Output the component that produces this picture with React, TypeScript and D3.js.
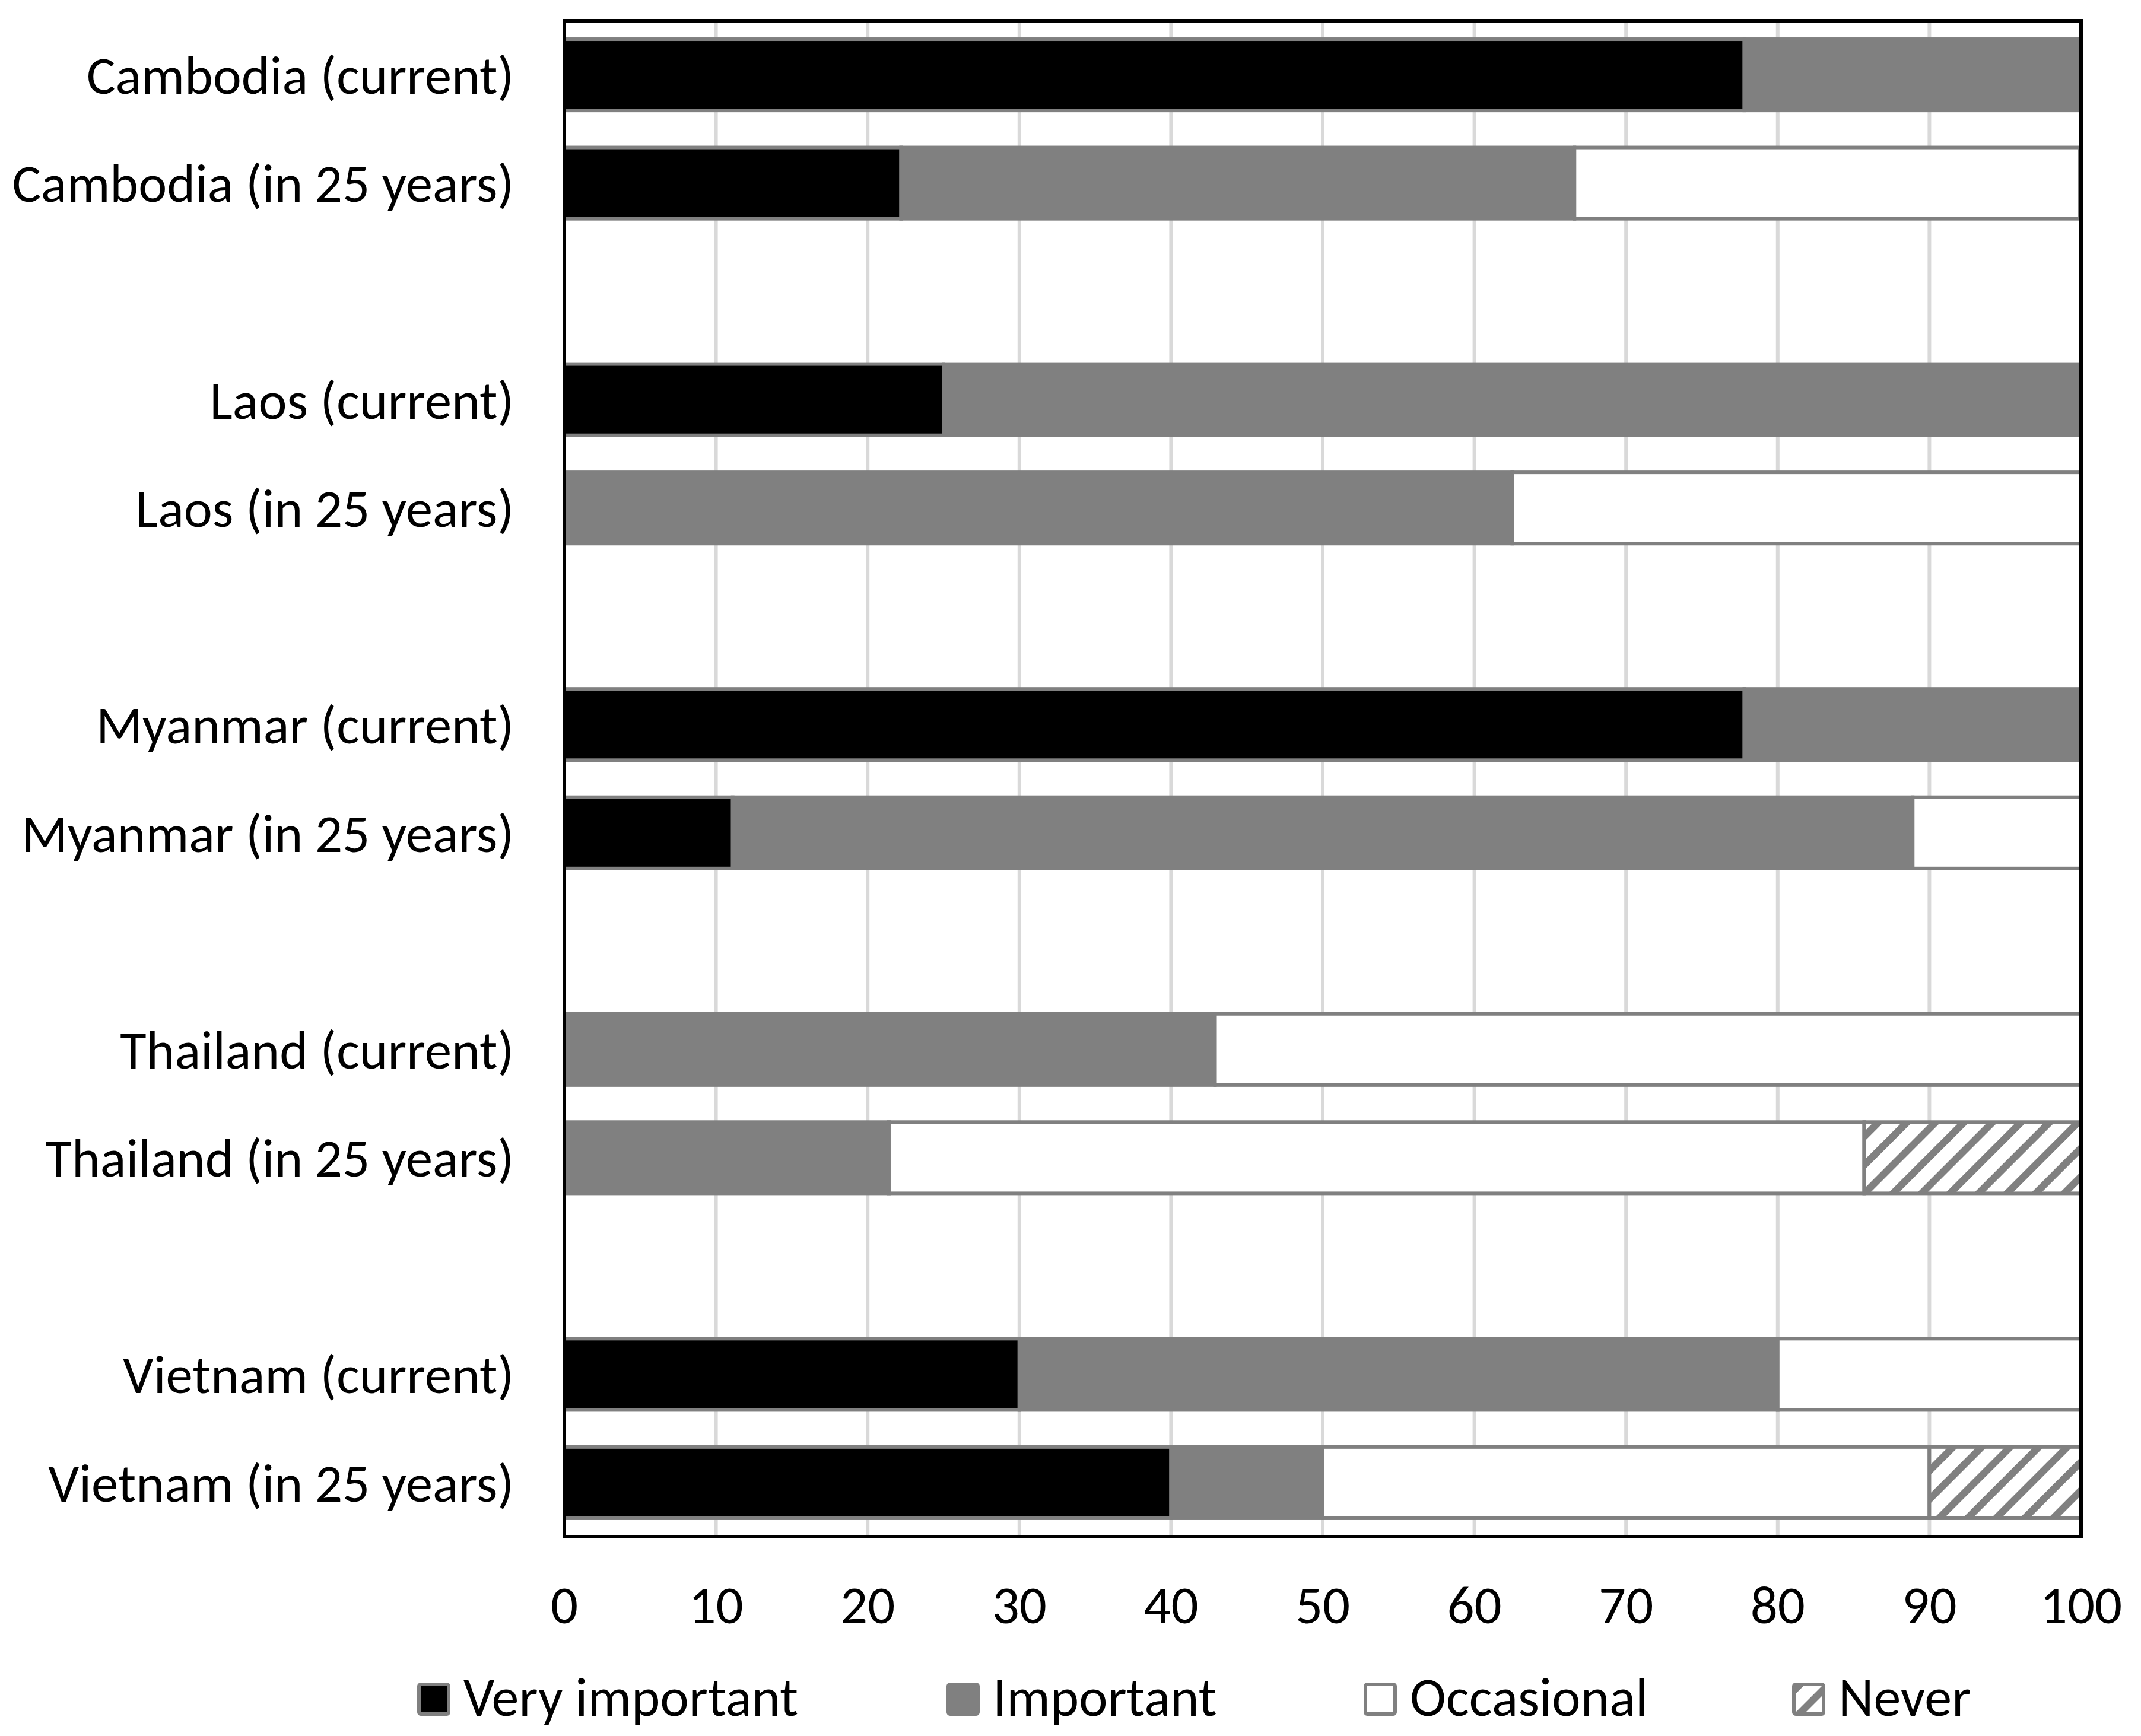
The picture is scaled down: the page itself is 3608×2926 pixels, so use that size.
import * as d3 from 'd3';
import React, { useEffect } from 'react';

// Rows top to bottom; blank strings are the spacer rows between countries
const categories = [
  'Cambodia (current)',
  'Cambodia (in 25 years)',
  '',
  'Laos (current)',
  'Laos (in 25 years)',
  ' ',
  'Myanmar (current)',
  'Myanmar (in 25 years)',
  '  ',
  'Thailand (current)',
  'Thailand (in 25 years)',
  '   ',
  'Vietnam (current)',
  'Vietnam (in 25 years)',
];

const seriesNames = ['Very important', 'Important', 'Occasional', 'Never'];

const veryImportant = [77.8, 22.2, 0, 25, 0, 0, 77.8, 11.1, 0, 0, 0, 0, 30, 40];
const important = [22.2, 44.4, 0, 75, 62.5, 0, 22.2, 77.8, 0, 42.9, 21.4, 0, 50, 10];
const occasional = [0, 33.3, 0, 0, 37.5, 0, 0, 11.1, 0, 57.1, 64.3, 0, 20, 40];
const never = [0, 0, 0, 0, 0, 0, 0, 0, 0, 0, 14.3, 0, 0, 10];

const xTicks = [0, 10, 20, 30, 40, 50, 60, 70, 80, 90, 100];

const FONT = 'Calibri, Carlito, Lato, "Noto Sans", sans-serif';

export default function App() {
  const ref = React.useRef<HTMLDivElement>(null);

  useEffect(() => {
    if (!ref.current) return;
    ref.current.innerHTML = '';
    document.body.style.margin = '0';

    const W = 3608;
    const H = 2926;
    const plot = { left: 951, right: 3507, top: 35, bottom: 2590 };

    const svg = d3
      .select(ref.current)
      .append('svg')
      .attr('width', W)
      .attr('height', H)
      .style('display', 'block')
      .style('background', '#fff');

    // diagonal hatch for "Never"
    const defs = svg.append('defs');
    const hatch = defs
      .append('pattern')
      .attr('id', 'hatch')
      .attr('patternUnits', 'userSpaceOnUse')
      .attr('width', 34)
      .attr('height', 34)
      .attr('patternTransform', 'rotate(45)');
    hatch.append('rect').attr('width', 34).attr('height', 34).attr('fill', '#fff');
    hatch
      .append('rect')
      .attr('x', 0)
      .attr('y', 0)
      .attr('width', 12)
      .attr('height', 34)
      .attr('fill', '#808080');

    const x = d3.scaleLinear().domain([0, 100]).range([plot.left, plot.right]);
    const y = d3
      .scaleBand<string>()
      .domain(categories)
      .range([plot.top, plot.bottom])
      .paddingInner(0.342)
      .paddingOuter(0.17);

    const fills = ['#000', '#808080', '#fff', 'url(#hatch)'];

    // gridlines
    svg
      .append('g')
      .selectAll('line')
      .data(xTicks.slice(1, -1))
      .enter()
      .append('line')
      .attr('x1', d => x(d))
      .attr('x2', d => x(d))
      .attr('y1', plot.top)
      .attr('y2', plot.bottom)
      .attr('stroke', '#d9d9d9')
      .attr('stroke-width', 6);

    // stacked bars
    const table = categories.map((c, i) => ({
      cat: c,
      'Very important': veryImportant[i],
      Important: important[i],
      Occasional: occasional[i],
      Never: never[i],
    }));
    const stacked = d3.stack<any>().keys(seriesNames)(table);

    svg
      .append('g')
      .selectAll('g')
      .data(stacked)
      .enter()
      .append('g')
      .attr('fill', (d, i) => fills[i])
      .selectAll('rect')
      .data(d => d.filter(p => p[1] - p[0] > 0))
      .enter()
      .append('rect')
      .attr('x', d => x(d[0]))
      .attr('width', d => x(d[1]) - x(d[0]))
      .attr('y', d => y(d.data.cat)!)
      .attr('height', y.bandwidth())
      .attr('stroke', '#808080')
      .attr('stroke-width', 6);

    // plot frame
    svg
      .append('rect')
      .attr('x', plot.left)
      .attr('y', plot.top)
      .attr('width', plot.right - plot.left)
      .attr('height', plot.bottom - plot.top)
      .attr('fill', 'none')
      .attr('stroke', '#000')
      .attr('stroke-width', 6);

    // y labels
    svg
      .append('g')
      .selectAll('text')
      .data(categories.filter(c => c.trim() !== ''))
      .enter()
      .append('text')
      .attr('x', 866)
      .attr('y', d => y(d)! + y.bandwidth() / 2)
      .attr('dy', '0.35em')
      .attr('text-anchor', 'end')
      .attr('font-family', FONT)
      .attr('font-size', 91)
      .attr('fill', '#000')
      .text(d => d);

    // x tick labels
    svg
      .append('g')
      .selectAll('text')
      .data(xTicks)
      .enter()
      .append('text')
      .attr('x', d => x(d))
      .attr('y', 2736)
      .attr('text-anchor', 'middle')
      .attr('font-family', FONT)
      .attr('font-size', 91)
      .attr('fill', '#000')
      .text(d => d);

    // legend
    const legendX = [703, 1595, 2298, 3020];
    const lg = svg
      .append('g')
      .selectAll('g')
      .data(seriesNames)
      .enter()
      .append('g')
      .attr('transform', (d, i) => `translate(${legendX[i]},2892)`);
    lg.append('rect')
      .attr('x', 3)
      .attr('y', -53)
      .attr('width', 50)
      .attr('height', 50)
      .attr('rx', 3)
      .attr('fill', (d, i) => fills[i])
      .attr('stroke', '#808080')
      .attr('stroke-width', 6);
    lg.append('text')
      .attr('x', 78)
      .attr('y', 0)
      .attr('font-family', FONT)
      .attr('font-size', 92)
      .attr('fill', '#000')
      .text(d => d);
  }, []);

  return <div ref={ref}></div>;
}
